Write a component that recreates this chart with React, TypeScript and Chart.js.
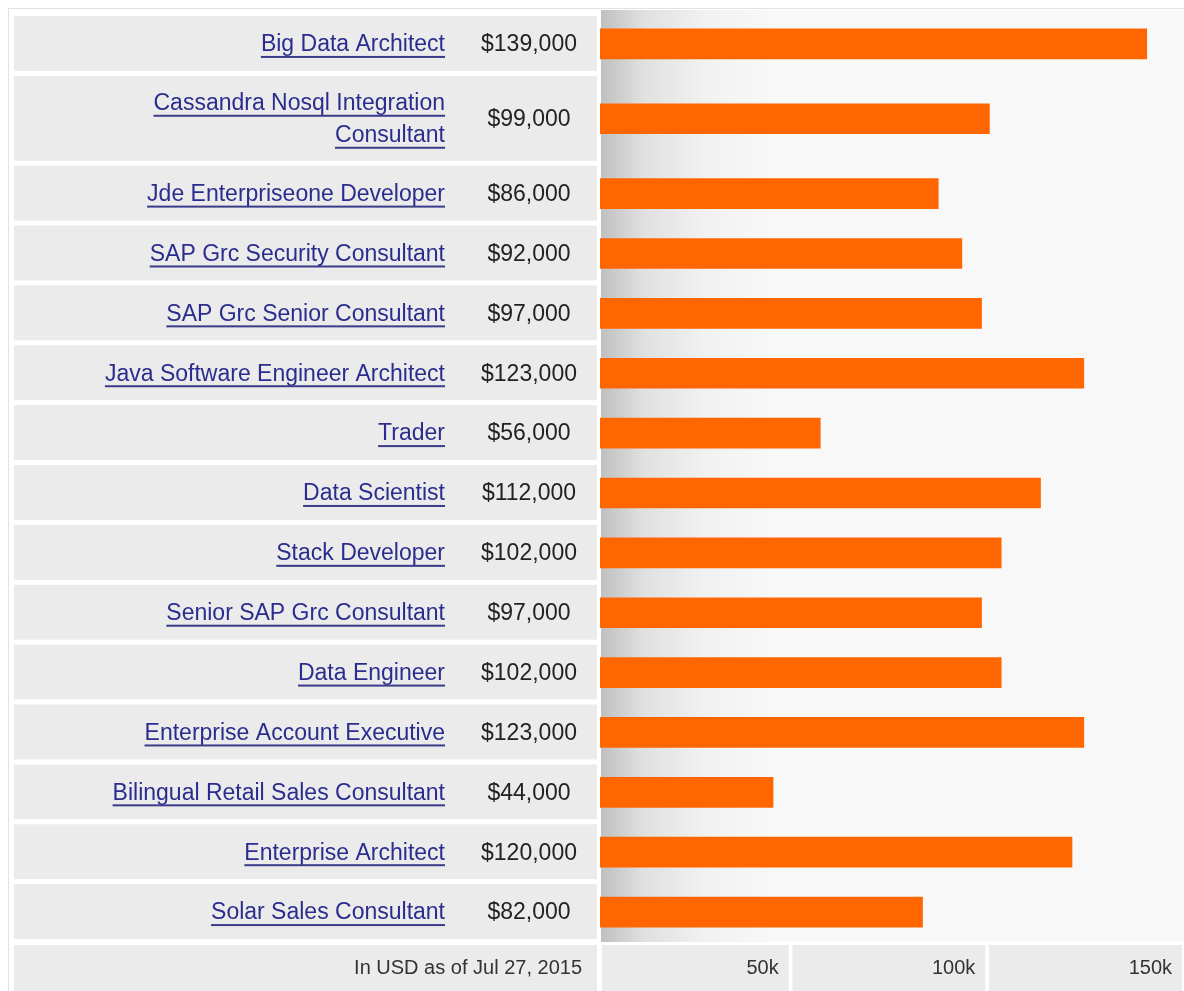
import React, { useEffect, useRef } from "react";
import { Chart, registerables } from "chart.js";
Chart.register(...registerables);

const jobTitles = [
  "Big Data Architect",
  "Cassandra Nosql Integration Consultant",
  "Jde Enterpriseone Developer",
  "SAP Grc Security Consultant",
  "SAP Grc Senior Consultant",
  "Java Software Engineer Architect",
  "Trader",
  "Data Scientist",
  "Stack Developer",
  "Senior SAP Grc Consultant",
  "Data Engineer",
  "Enterprise Account Executive",
  "Bilingual Retail Sales Consultant",
  "Enterprise Architect",
  "Solar Sales Consultant",
];
const salaries = [139000, 99000, 86000, 92000, 97000, 123000, 56000, 112000, 102000, 97000, 102000, 123000, 44000, 120000, 82000];
const xTicks = [50000, 100000, 150000];
const tickLabels = ["50k", "100k", "150k"];
const footnote = "In USD as of Jul 27, 2015";

const LABEL_FONT = '23px "Liberation Sans", Arial, sans-serif';
const AXIS_FONT = '20px "Liberation Sans", Arial, sans-serif';

function wrapText(ctx: CanvasRenderingContext2D, text: string, maxW: number): string[] {
  const words = text.split(" ");
  const lines: string[] = [];
  let cur = "";
  for (const w of words) {
    const test = cur ? cur + " " + w : w;
    if (ctx.measureText(test).width > maxW && cur) {
      lines.push(cur);
      cur = w;
    } else cur = test;
  }
  if (cur) lines.push(cur);
  return lines;
}

export default function App() {
  const ref = useRef<HTMLCanvasElement | null>(null);
  useEffect(() => {
    document.body.style.margin = "0";
    const canvas = ref.current!;
    const mctx = document.createElement("canvas").getContext("2d")!;
    mctx.font = LABEL_FONT;
    const wrapped = jobTitles.map((t) => wrapText(mctx, t, 370));
    const units = wrapped.map((l) => 1 + 0.5 * (l.length - 1));
    const centers: number[] = [];
    let acc = 0;
    units.forEach((u) => {
      centers.push(acc + u / 2);
      acc += u;
    });
    const total = acc;

    const tablePlugin = {
      id: "table",
      beforeDatasetsDraw(chart: any) {
        const ctx: CanvasRenderingContext2D = chart.ctx;
        const ca = chart.chartArea;
        const ys = chart.scales.y;
        const xs = chart.scales.x;
        const W = chart.width;
        const H = chart.height;
        ctx.save();
        // frame lines
        ctx.strokeStyle = "#e2e2e2";
        ctx.lineWidth = 1;
        ctx.beginPath();
        ctx.moveTo(8, 8.5);
        ctx.lineTo(W, 8.5);
        ctx.moveTo(8.5, 8);
        ctx.lineTo(8.5, H);
        ctx.stroke();
        // bar area gradient
        const gx = ca.left + 1;
        const g = ctx.createLinearGradient(gx, 0, gx + 170, 0);
        g.addColorStop(0, "#c0c0c0");
        g.addColorStop(0.25, "#e0e0e0");
        g.addColorStop(0.6, "#f1f1f1");
        g.addColorStop(1, "#f8f8f8");
        ctx.fillStyle = g;
        ctx.fillRect(gx, 10, W - gx, ca.bottom - 10);
        // rows
        const pxPerUnit = Math.abs(ys.getPixelForValue(1) - ys.getPixelForValue(0));
        wrapped.forEach((lines, i) => {
          const cy = ys.getPixelForValue(centers[i]);
          const h = units[i] * pxPerUnit;
          ctx.fillStyle = "#ebebeb";
          ctx.fillRect(14, cy - h / 2 + 2, 583, h - 5);
          ctx.font = LABEL_FONT;
          ctx.textBaseline = "middle";
          ctx.textAlign = "right";
          const lh = 32;
          lines.forEach((ln, k) => {
            const ty = cy + 1 + (k - (lines.length - 1) / 2) * lh;
            ctx.fillStyle = "#2b2d8e";
            ctx.fillText(ln, 445, ty);
            const w = ctx.measureText(ln).width;
            ctx.fillStyle = "#3a3c8a";
            ctx.fillRect(445 - w, ty + 11, w, 2);
          });
          ctx.fillStyle = "#222222";
          ctx.textAlign = "center";
          ctx.fillText("$" + salaries[i].toLocaleString("en-US"), 529, cy + 1);
        });
        // axis row
        const top = ca.bottom + 3;
        ctx.fillStyle = "#ebebeb";
        ctx.fillRect(14, top, 583, H - top);
        ctx.font = AXIS_FONT;
        ctx.textAlign = "right";
        ctx.textBaseline = "middle";
        const ty = top + (H - top) / 2;
        ctx.fillStyle = "#333333";
        ctx.fillText(footnote, 582, ty);
        let prev = ca.left + 2;
        xTicks.forEach((t, i) => {
          const px = xs.getPixelForValue(t);
          ctx.fillStyle = "#ebebeb";
          ctx.fillRect(prev, top, Math.max(W, px) - prev, H - top);
          ctx.fillStyle = "#ffffff";
          ctx.fillRect(px - 8, top, 4, H - top);
          ctx.fillStyle = "#333333";
          ctx.fillText(tickLabels[i], px - 18, ty);
          prev = px - 4;
        });
        ctx.restore();
      },
    };

    const chart = new Chart(canvas, {
      type: "bar",
      data: {
        datasets: [
          {
            data: salaries.map((v, i) => ({ x: v, y: centers[i] })),
            backgroundColor: "#ff6600",
            borderWidth: 0,
            barThickness: 30,
          } as any,
        ],
      },
      options: {
        indexAxis: "y",
        responsive: false,
        animation: false,
        layout: { padding: { left: 600, right: 2, top: 14, bottom: 49 } },
        scales: {
          x: { type: "linear", min: 0, max: 150000, display: false, offset: false },
          y: { type: "linear", min: 0, max: total, reverse: true, display: false, offset: false, grace: 0 },
        },
        plugins: { legend: { display: false }, tooltip: { enabled: false } },
      },
      plugins: [tablePlugin],
    });
    return () => chart.destroy();
  }, []);
  return (
    <div style={{ width: 1184, height: 991, overflow: "hidden", background: "#fff" }}>
      <canvas ref={ref} width={1192} height={991} style={{ display: "block" }} />
    </div>
  );
}
